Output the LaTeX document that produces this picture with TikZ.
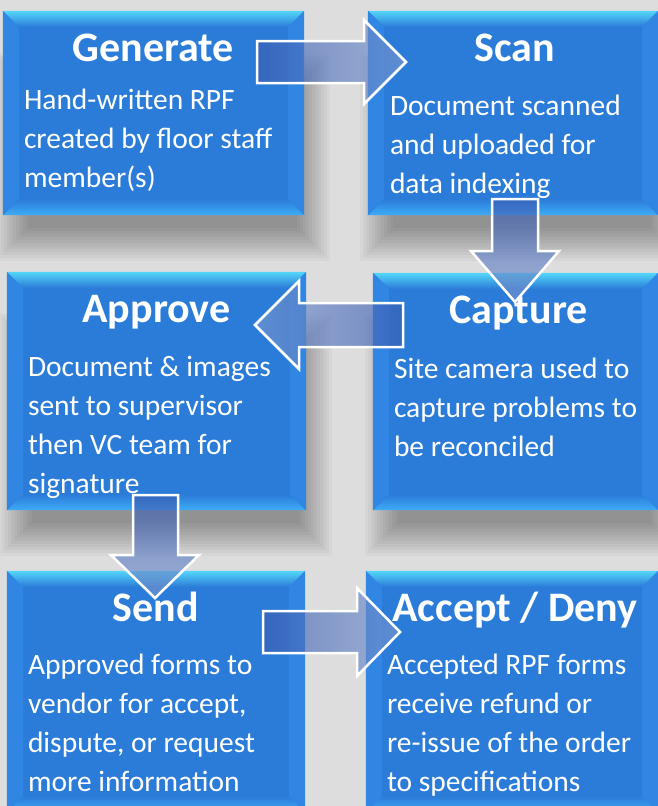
\documentclass[tikz,border=0pt]{standalone}
\usepackage{fontspec}
\setmainfont{Carlito}
\usepackage{xcolor}
\usetikzlibrary{calc,positioning}

\definecolor{boxblue}{RGB}{43,124,216}
\definecolor{bevtop}{RGB}{84,214,250}
\definecolor{bevbot}{RGB}{62,172,246}
\definecolor{bevside}{RGB}{48,134,226}
\definecolor{bggray}{RGB}{221,221,221}
\definecolor{arrdark}{RGB}{58,92,178}
\definecolor{arrlight}{RGB}{122,152,208}

\tikzset{
  stepbox/.style={fill=boxblue, inner sep=0pt},
  titletext/.style={text=white, font=\fontsize{42}{50}\selectfont\bfseries, anchor=base, inner sep=0pt},
  bodytext/.style={text=white, font=\fontsize{29.5}{39}\selectfont, align=left, anchor=base west, inner sep=0pt},
  flowarrow/.style={draw=white, line width=2.5pt, fill opacity=0.65, line join=miter},
}

% soft shadow under a box node
\newcommand\softshadow[1]{%
  \foreach \k in {0,...,11}
    \fill[black, opacity=0.032] ($(#1.north west)+(-8+3*\k,42+3*\k)$) rectangle ($(#1.south east)+(26-3*\k,46-3*\k)$);
}
% bevelled edges of a box node
\newcommand\bevel[1]{%
  \shade[top color=bevtop, bottom color=boxblue] (#1.north west) -- (#1.north east) -- ($(#1.north east)+(-16,16)$) -- ($(#1.north west)+(16,16)$) -- cycle;
  \shade[top color=boxblue, bottom color=bevbot] ($(#1.south west)+(16,-16)$) -- ($(#1.south east)+(-16,-16)$) -- (#1.south east) -- (#1.south west) -- cycle;
  \fill[bevside] (#1.north west) -- ($(#1.north west)+(16,16)$) -- ($(#1.south west)+(16,-16)$) -- (#1.south west) -- cycle;
  \fill[bevside] (#1.north east) -- ($(#1.north east)+(-16,16)$) -- ($(#1.south east)+(-16,-16)$) -- (#1.south east) -- cycle;
}

\begin{document}
\begin{tikzpicture}[x=1pt, y=-1pt]
    \fill[bggray] (0,0) rectangle (658,806);
    \useasboundingbox (0,0) rectangle (658,806);

    % boxes
    \path (153.5,113) node[minimum width=301, minimum height=204] (gen) {};
    \softshadow{gen}
    \node[stepbox, minimum width=301, minimum height=204] at (gen) {};
    \bevel{gen}
    \path (513,113) node[minimum width=290, minimum height=204] (scan) {};
    \softshadow{scan}
    \node[stepbox, minimum width=290, minimum height=204] at (scan) {};
    \bevel{scan}
    \path (156.5,391) node[minimum width=299, minimum height=238] (appr) {};
    \softshadow{appr}
    \node[stepbox, minimum width=299, minimum height=238] at (appr) {};
    \bevel{appr}
    \path (515.5,391.5) node[minimum width=285, minimum height=237] (capt) {};
    \softshadow{capt}
    \node[stepbox, minimum width=285, minimum height=237] at (capt) {};
    \bevel{capt}
    \path (156,691.5) node[minimum width=298, minimum height=241] (send) {};
    \node[stepbox, minimum width=298, minimum height=241] at (send) {};
    \bevel{send}
    \path (512,691.5) node[minimum width=292, minimum height=241] (accd) {};
    \node[stepbox, minimum width=292, minimum height=241] at (accd) {};
    \bevel{accd}

    % arrows
    \shade[flowarrow, left color=arrdark, right color=arrlight] (257,41) -- (364,41) -- (364,20) -- (406,62) -- (364,104) -- (364,83) -- (257,83) -- cycle;
    \shade[flowarrow, top color=arrdark, bottom color=arrlight] (492,199) -- (538,199) -- (538,251) -- (559,251) -- (515,302) -- (471,251) -- (492,251) -- cycle;
    \shade[flowarrow, left color=arrlight, right color=arrdark] (403,303) -- (299,303) -- (299,281) -- (255,325) -- (299,369) -- (299,347) -- (403,347) -- cycle;
    \shade[flowarrow, top color=arrdark, bottom color=arrlight] (133,495) -- (178,495) -- (178,555) -- (199,555) -- (155,598) -- (111,555) -- (133,555) -- cycle;
    \shade[flowarrow, left color=arrdark, right color=arrlight] (263,611) -- (357,611) -- (357,588) -- (400,632) -- (357,676) -- (357,653) -- (263,653) -- cycle;

    % texts (body nodes sit on the baseline of their last line)
    \node[titletext] (gen-t) at ($(gen.north)+(0,51)$) {Generate};
    \node[bodytext] (gen-b) at ($(gen.north west)+(21,177)$) {Hand-written RPF\\created by floor staff\\member(s)};
    \node[titletext] (scan-t) at ($(scan.north)+(2,51)$) {Scan};
    \node[bodytext] (scan-b) at ($(scan.north west)+(22,183)$) {Document scanned\\and uploaded for\\data indexing};
    \node[titletext] (appr-t) at ($(appr.north)+(0,51)$) {Approve};
    \node[bodytext] (appr-b) at ($(appr.north west)+(21,222)$) {Document \& images\\sent to supervisor\\then VC team for\\signature};
    \node[titletext] (capt-t) at ($(capt.north)+(3,51)$) {Capture};
    \node[bodytext] (capt-b) at ($(capt.north west)+(21,184)$) {Site camera used to\\capture problems to\\be reconciled};
    \node[titletext] (send-t) at ($(send.north)+(0,51)$) {Send};
    \node[bodytext] (send-b) at ($(send.north west)+(21,221)$) {Approved forms to\\vendor for accept,\\dispute, or request\\more information};
    \node[titletext] (accd-t) at ($(accd.north)+(3,51)$) {Accept / Deny};
    \node[bodytext] (accd-b) at ($(accd.north west)+(21,221)$) {Accepted RPF forms\\receive refund or\\re-issue of the order\\to specifications};
\end{tikzpicture}
\end{document}
